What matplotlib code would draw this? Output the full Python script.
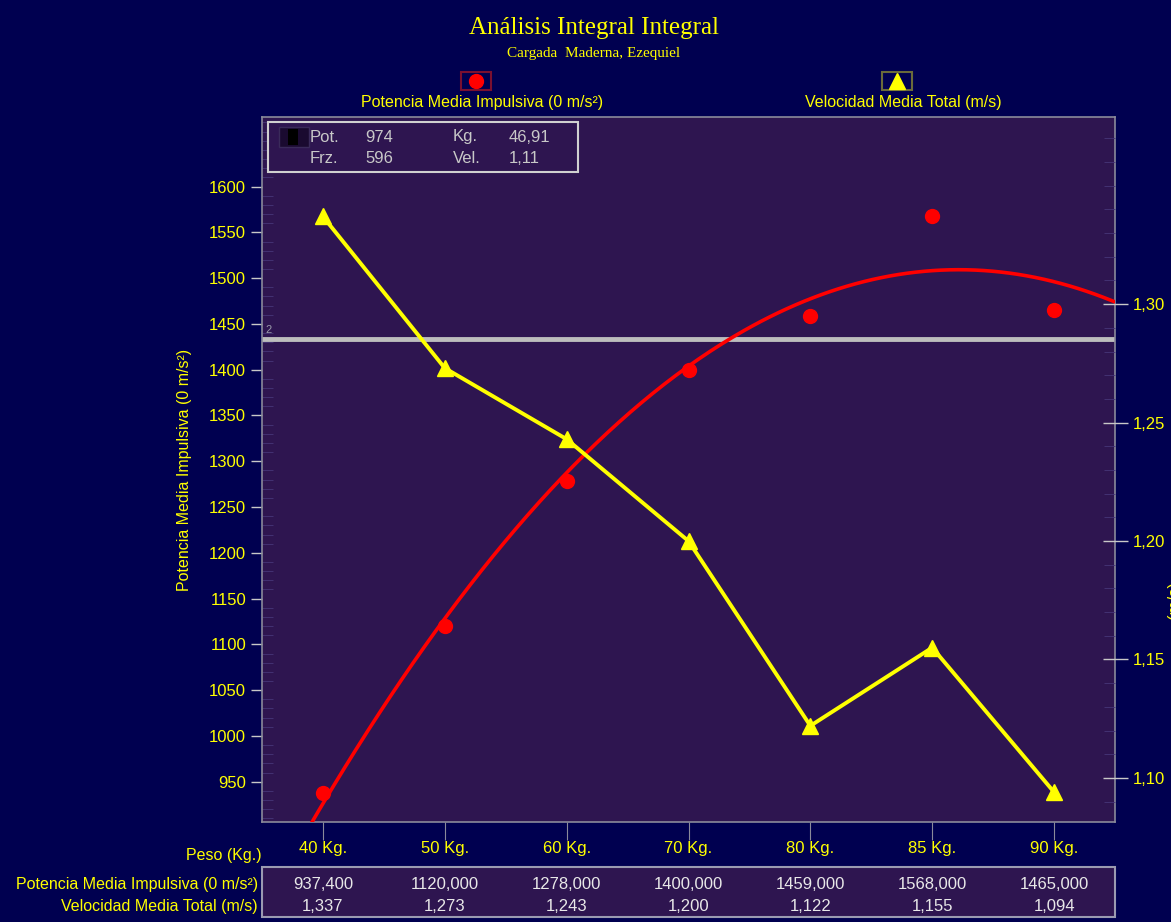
import matplotlib
matplotlib.use("Agg")
import matplotlib.pyplot as plt
from matplotlib.patches import Rectangle
import numpy as np

# datos
pesos = ["40 Kg.", "50 Kg.", "60 Kg.", "70 Kg.", "80 Kg.", "85 Kg.", "90 Kg."]
potencia = [937.4, 1120.0, 1278.0, 1400.0, 1459.0, 1568.0, 1465.0]
velocidad = [1.337, 1.273, 1.243, 1.200, 1.122, 1.155, 1.094]
potencia_txt = ["937,400", "1120,000", "1278,000", "1400,000", "1459,000", "1568,000", "1465,000"]
velocidad_txt = ["1,337", "1,273", "1,243", "1,200", "1,122", "1,155", "1,094"]
linea_ref = 1434
izq_ticks = list(range(950, 1601, 50))
der_ticks = [1.10, 1.15, 1.20, 1.25, 1.30]

fondo = "#000050"
panel = "#2e1550"
amarillo = "#ffff00"
rojo = "#ff0000"
gris = "#c8c8c8"
fuente = ["Liberation Sans", "DejaVu Sans"]

fig = plt.figure(figsize=(11.71, 9.22), dpi=100, facecolor=fondo)
W, H = 1171, 922

def fx(px):
    return px / W

def fy(py):
    return 1 - py / H

ax = fig.add_axes([fx(262), fy(822), fx(1115) - fx(262), fy(117) - fy(822)])
ax.set_facecolor(panel)
x = np.arange(len(pesos))

# curva de ajuste (polinomio de 2o grado) de la potencia
coef = np.polyfit(x, potencia, 2)
xs = np.linspace(-0.5, 6.5, 300)
ax.plot(xs, np.polyval(coef, xs), color=rojo, lw=2.6, zorder=3)
ax.plot(x, potencia, "o", color=rojo, ms=10, zorder=4, clip_on=False)

ax.axhline(linea_ref, color="#bdbdbd", lw=3.5, zorder=2)
ax.text(-0.47, linea_ref + 4, "2", color="#9a9aaa", fontsize=8, family=fuente, va="bottom")

ax.set_xlim(-0.5, 6.5)
ax.set_ylim(906, 1676)
ax.set_yticks(izq_ticks)
ax.set_yticks(np.arange(910, 1671, 10), minor=True)
ax.set_xticks(x)
ax.set_xticklabels(pesos)
ax.tick_params(axis="y", colors=gris, labelcolor=amarillo, labelsize=12, length=8, width=1, direction="out")
ax.tick_params(axis="y", which="minor", colors="#463678", length=8, direction="in")
ax.tick_params(axis="x", colors="#8a8a9a", labelcolor=amarillo, labelsize=12, length=13, pad=1, direction="out")
for lab in ax.get_yticklabels() + ax.get_xticklabels():
    lab.set_family(fuente)
for s in ax.spines.values():
    s.set_color("#8a8a9a")
    s.set_linewidth(1.2)
ax.set_ylabel("Potencia Media Impulsiva (0 m/s²)", color=amarillo, fontsize=11.5,
              family=fuente, labelpad=12)

ax2 = ax.twinx()
ax2.plot(x, velocidad, color=amarillo, lw=2.8, marker="^", ms=12, zorder=5, clip_on=False)
ax2.set_ylim(1.0814, 1.379)
ax2.set_yticks(der_ticks)
ax2.set_yticklabels([f"{v:.2f}".replace(".", ",") for v in der_ticks])
ax2.set_yticks(np.arange(1.09, 1.38, 0.01), minor=True)
ax2.tick_params(axis="y", colors=gris, labelcolor=amarillo, labelsize=12, length=18, width=1, direction="inout")
ax2.tick_params(axis="y", which="minor", colors="#463678", length=8, direction="in")
for lab in ax2.get_yticklabels():
    lab.set_family(fuente)
for s in ax2.spines.values():
    s.set_visible(False)
# etiqueta del eje derecho, cortada por el borde como en el original
fig.text(fx(1167), fy(600), "(m/s)", color=amarillo, fontsize=12,
         family=fuente, rotation=90, ha="left", va="center")

# cuadro de informacion
fig.patches.append(Rectangle((fx(268), fy(172)), fx(578) - fx(268), fy(122) - fy(172),
                             transform=fig.transFigure, facecolor=panel, edgecolor="#d0d0d0", lw=1.5))
fig.patches.append(Rectangle((fx(279), fy(147)), fx(309) - fx(279), fy(127) - fy(147),
                             transform=fig.transFigure, facecolor="#1a0a30", edgecolor="#3a2a5a", lw=1))
fig.patches.append(Rectangle((fx(288), fy(145)), fx(298) - fx(288), fy(129) - fy(145),
                             transform=fig.transFigure, facecolor="black", edgecolor="none"))
info = [("Pot.", "974", "Kg.", "46,91", 137), ("Frz.", "596", "Vel.", "1,11", 158)]
for a, b, c, d, py in info:
    fig.text(fx(310), fy(py), a, color=gris, fontsize=12, family=fuente, va="center")
    fig.text(fx(365), fy(py), b, color=gris, fontsize=12, family=fuente, va="center")
    fig.text(fx(453), fy(py), c, color=gris, fontsize=12, family=fuente, va="center")
    fig.text(fx(509), fy(py), d, color=gris, fontsize=12, family=fuente, va="center")

# titulos
fig.text(fx(594), fy(28), "Análisis Integral Integral", color=amarillo, fontsize=18,
         family="Liberation Serif", ha="center", va="center")
fig.text(fx(594), fy(53), "Cargada  Maderna, Ezequiel", color=amarillo, fontsize=11,
         family="Liberation Serif", ha="center", va="center")

# leyenda
for cx, mk, nombre, col in [(476, "o", "Potencia Media Impulsiva (0 m/s²)", "#7a1030"),
                            (897, "^", "Velocidad Media Total (m/s)", "#6a6a3a")]:
    fig.patches.append(Rectangle((fx(cx - 15), fy(90)), fx(30), fy(72) - fy(90),
                                 transform=fig.transFigure, facecolor=fondo, edgecolor=col, lw=1.5))
    fig.add_artist(plt.Line2D([fx(cx)], [fy(81)], marker=mk, ms=10 if mk == "o" else 11,
                              color=rojo if mk == "o" else amarillo, transform=fig.transFigure))
    fig.text(fx(cx + 6), fy(102), nombre, color=amarillo, fontsize=11.5, family=fuente,
             ha="center", va="center")

# tabla inferior
fig.text(fx(262), fy(855), "Peso (Kg.)", color=amarillo, fontsize=11.5, family=fuente,
         ha="right", va="center")
fig.patches.append(Rectangle((fx(262), fy(917)), fx(1115) - fx(262), fy(867) - fy(917),
                             transform=fig.transFigure, facecolor=panel, edgecolor="#9a9ab0", lw=1.5))
fig.text(fx(258), fy(884), "Potencia Media Impulsiva (0 m/s²)", color=amarillo, fontsize=11.5,
         family=fuente, ha="right", va="center")
fig.text(fx(258), fy(906), "Velocidad Media Total (m/s)", color=amarillo, fontsize=11.5,
         family=fuente, ha="right", va="center")
for i in range(len(pesos)):
    xp = ax.transData.transform((i, 0))[0] / fig.bbox.width
    fig.text(xp, fy(884), potencia_txt[i], color="#e8e8e8", fontsize=12, family=fuente,
             ha="center", va="center")
    fig.text(xp, fy(906), velocidad_txt[i], color="#e8e8e8", fontsize=12, family=fuente,
             ha="center", va="center")

fig.savefig("out.png", dpi=100, facecolor=fondo)
